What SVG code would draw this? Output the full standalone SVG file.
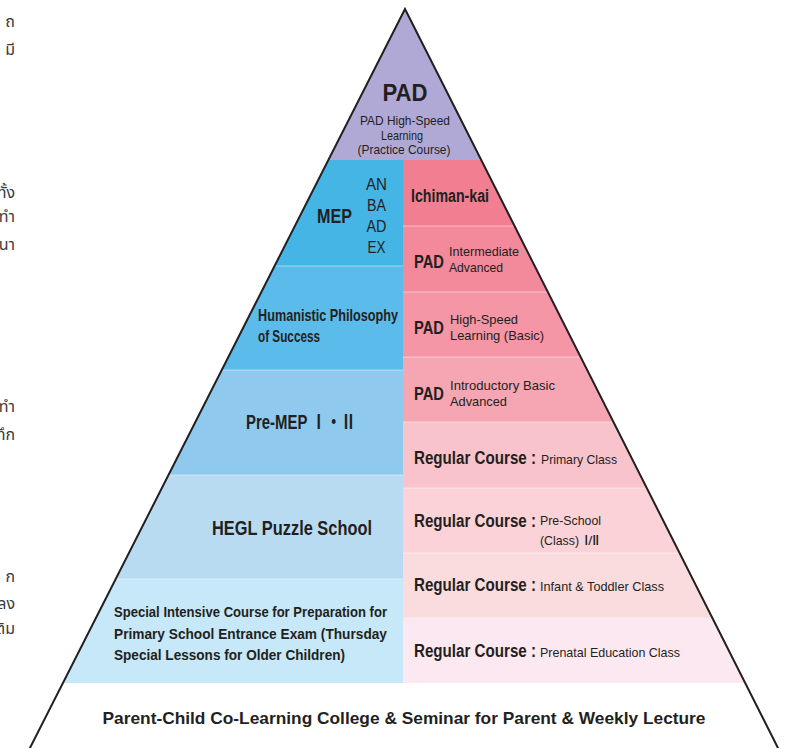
<svg xmlns="http://www.w3.org/2000/svg" width="793" height="748" viewBox="0 0 793 748">
<defs>
<style>
text{font-family:"Liberation Sans Narrow","Liberation Sans",Arial,sans-serif;fill:#231f20;}
.b{font-weight:bold;}
.sm{font-size:13.5px;}
.lb{font-size:19px;font-weight:bold;}
.th{font-family:"Noto Sans Thai","Noto Sans","DejaVu Sans",sans-serif;font-size:16px;fill:#3a3a3a;}
.sep{stroke:#ffffff;stroke-opacity:0.45;stroke-width:1;}
</style>
<clipPath id="tri"><polygon points="405,9 27.9,752 780,752"/></clipPath>
</defs>
<rect width="793" height="748" fill="#ffffff"/>

<g id="thai-fragments">
<text class="th" x="15" y="27" text-anchor="end">ถ</text>
<text class="th" x="15" y="55" text-anchor="end">มี</text>
<text class="th" x="15" y="198" text-anchor="end">ทั้ง</text>
<text class="th" x="15" y="222" text-anchor="end">ทำ</text>
<text class="th" x="15" y="250" text-anchor="end">นา</text>
<text class="th" x="15" y="412" text-anchor="end">ทำ</text>
<text class="th" x="15" y="440" text-anchor="end">ทึก</text>
<text class="th" x="15" y="582" text-anchor="end">ก</text>
<text class="th" x="15" y="609" text-anchor="end">ลง</text>
<text class="th" x="15" y="634" text-anchor="end">เติม</text>
</g>

<g clip-path="url(#tri)">
<g id="pad-top">
<rect x="0" y="0" width="793" height="160" fill="#b1a9d5"/>
<text class="b" x="405" y="101" font-size="24" text-anchor="middle" textLength="45" lengthAdjust="spacingAndGlyphs">PAD</text>
<text x="405" y="125" font-size="13" text-anchor="middle" textLength="90" lengthAdjust="spacingAndGlyphs">PAD High-Speed</text>
<text x="402" y="140" font-size="13" text-anchor="middle" textLength="42" lengthAdjust="spacingAndGlyphs">Learning</text>
<text x="404" y="154" font-size="13" text-anchor="middle" textLength="93" lengthAdjust="spacingAndGlyphs">(Practice Course)</text>
</g>

<g id="mep">
<rect x="0" y="160" width="403" height="106" fill="#45b5e6"/>
<text class="b" x="317" y="223" font-size="20.5" textLength="35" lengthAdjust="spacingAndGlyphs">MEP</text>
<text x="376.5" y="190" font-size="16.5" text-anchor="middle" textLength="21" lengthAdjust="spacingAndGlyphs">AN</text>
<text x="376.5" y="211" font-size="16.5" text-anchor="middle" textLength="19" lengthAdjust="spacingAndGlyphs">BA</text>
<text x="376.5" y="232" font-size="16.5" text-anchor="middle" textLength="20" lengthAdjust="spacingAndGlyphs">AD</text>
<text x="376.5" y="253" font-size="16.5" text-anchor="middle" textLength="18" lengthAdjust="spacingAndGlyphs">EX</text>
</g>

<g id="humanistic">
<rect x="0" y="266" width="403" height="104" fill="#5bbbea"/>
<text class="b" font-size="16" transform="translate(258,321) scale(0.79,1)" textLength="177.2" lengthAdjust="spacingAndGlyphs">Humanistic Philosophy</text>
<text class="b" font-size="16" transform="translate(258,342) scale(0.79,1)" textLength="78.5" lengthAdjust="spacingAndGlyphs">of Success</text>
</g>

<g id="pre-mep">
<rect x="0" y="370" width="403" height="105" fill="#8fcaee"/>
<text class="b" font-size="19.5" transform="translate(246,429) scale(0.77,1)" textLength="142.9" lengthAdjust="spacingAndGlyphs">Pre-MEP <tspan font-family="'Noto Sans CJK JP',sans-serif">Ⅰ・Ⅱ</tspan></text>
</g>

<g id="hegl">
<rect x="0" y="475" width="403" height="104" fill="#b9dbf2"/>
<text class="b" font-size="19.5" transform="translate(212,535) scale(0.84,1)" textLength="190.5" lengthAdjust="spacingAndGlyphs">HEGL Puzzle School</text>
</g>

<g id="special">
<rect x="0" y="579" width="403" height="104" fill="#c6e8f8"/>
<text class="b" font-size="15" transform="translate(114,617) scale(0.76,1)" textLength="359.2" lengthAdjust="spacingAndGlyphs">Special Intensive Course for Preparation for</text>
<text class="b" font-size="15" transform="translate(114,639) scale(0.76,1)" textLength="359.2" lengthAdjust="spacingAndGlyphs">Primary School Entrance Exam (Thursday</text>
<text class="b" font-size="15" transform="translate(114,660) scale(0.76,1)" textLength="304" lengthAdjust="spacingAndGlyphs">Special Lessons for Older Children)</text>
</g>

<g id="ichiman-kai">
<rect x="403" y="160" width="390" height="66" fill="#f27f91"/>
<text class="b" font-size="18.5" transform="translate(411,202) scale(0.77,1)" textLength="101.3" lengthAdjust="spacingAndGlyphs">Ichiman-kai</text>
</g>

<g id="pad-intermediate">
<rect x="403" y="226" width="390" height="66" fill="#f28a9c"/>
<text class="lb" transform="translate(414,268) scale(0.73,1)" textLength="41" lengthAdjust="spacingAndGlyphs">PAD</text>
<text class="sm" x="449" y="256" textLength="70" lengthAdjust="spacingAndGlyphs">Intermediate</text>
<text class="sm" x="449" y="272" textLength="54" lengthAdjust="spacingAndGlyphs">Advanced</text>
</g>

<g id="pad-highspeed">
<rect x="403" y="292" width="390" height="65" fill="#f496a6"/>
<text class="lb" transform="translate(414,334) scale(0.73,1)" textLength="41" lengthAdjust="spacingAndGlyphs">PAD</text>
<text class="sm" x="450" y="324" textLength="68" lengthAdjust="spacingAndGlyphs">High-Speed</text>
<text class="sm" x="450" y="340" textLength="94" lengthAdjust="spacingAndGlyphs">Learning (Basic)</text>
</g>

<g id="pad-intro">
<rect x="403" y="357" width="390" height="65" fill="#f6a6b3"/>
<text class="lb" transform="translate(414,400) scale(0.73,1)" textLength="41" lengthAdjust="spacingAndGlyphs">PAD</text>
<text class="sm" x="450" y="390" textLength="105" lengthAdjust="spacingAndGlyphs">Introductory Basic</text>
<text class="sm" x="450" y="406" textLength="57" lengthAdjust="spacingAndGlyphs">Advanced</text>
</g>

<g id="regular-primary">
<rect x="403" y="422" width="390" height="66" fill="#f8c3cb"/>
<text class="lb" transform="translate(414,464) scale(0.8,1)" textLength="152.5" lengthAdjust="spacingAndGlyphs">Regular Course :</text>
<text class="sm" x="541" y="464" textLength="76" lengthAdjust="spacingAndGlyphs">Primary Class</text>
</g>

<g id="regular-preschool">
<rect x="403" y="488" width="390" height="65" fill="#fad2d7"/>
<text class="lb" transform="translate(414,527) scale(0.8,1)" textLength="152.5" lengthAdjust="spacingAndGlyphs">Regular Course :</text>
<text class="sm" x="540" y="525" textLength="61" lengthAdjust="spacingAndGlyphs">Pre-School</text>
<text class="sm" x="540" y="545" textLength="39" lengthAdjust="spacingAndGlyphs">(Class)</text>
<text class="sm" x="584" y="545" font-family="'DejaVu Sans',sans-serif" textLength="16" lengthAdjust="spacingAndGlyphs">Ⅰ/Ⅱ</text>
</g>

<g id="regular-infant">
<rect x="403" y="553" width="390" height="65" fill="#fbdcde"/>
<text class="lb" transform="translate(414,591) scale(0.8,1)" textLength="152.5" lengthAdjust="spacingAndGlyphs">Regular Course :</text>
<text class="sm" x="540" y="591" textLength="124" lengthAdjust="spacingAndGlyphs">Infant &amp; Toddler Class</text>
</g>

<g id="regular-prenatal">
<rect x="403" y="618" width="390" height="65" fill="#fce8f0"/>
<text class="lb" transform="translate(414,657) scale(0.8,1)" textLength="152.5" lengthAdjust="spacingAndGlyphs">Regular Course :</text>
<text class="sm" x="540" y="657" textLength="140" lengthAdjust="spacingAndGlyphs">Prenatal Education Class</text>
</g>

<g id="separators">
<line class="sep" x1="0" y1="266" x2="403" y2="266"/>
<line class="sep" x1="0" y1="370" x2="403" y2="370"/>
<line class="sep" x1="0" y1="475" x2="403" y2="475"/>
<line class="sep" x1="0" y1="579" x2="403" y2="579"/>
<line class="sep" x1="403" y1="226" x2="793" y2="226"/>
<line class="sep" x1="403" y1="292" x2="793" y2="292"/>
<line class="sep" x1="403" y1="357" x2="793" y2="357"/>
<line class="sep" x1="403" y1="422" x2="793" y2="422"/>
<line class="sep" x1="403" y1="488" x2="793" y2="488"/>
<line class="sep" x1="403" y1="553" x2="793" y2="553"/>
<line class="sep" x1="403" y1="618" x2="793" y2="618"/>
</g>
</g>

<g id="base">
<text class="b" x="404" y="724" font-size="17" text-anchor="middle" textLength="603" lengthAdjust="spacingAndGlyphs">Parent-Child Co-Learning College &amp; Seminar for Parent &amp; Weekly Lecture</text>
</g>

<g id="outline">
<polyline points="27.9,752 405,9 780,752" fill="none" stroke="#231f20" stroke-width="2"/>
</g>
</svg>
